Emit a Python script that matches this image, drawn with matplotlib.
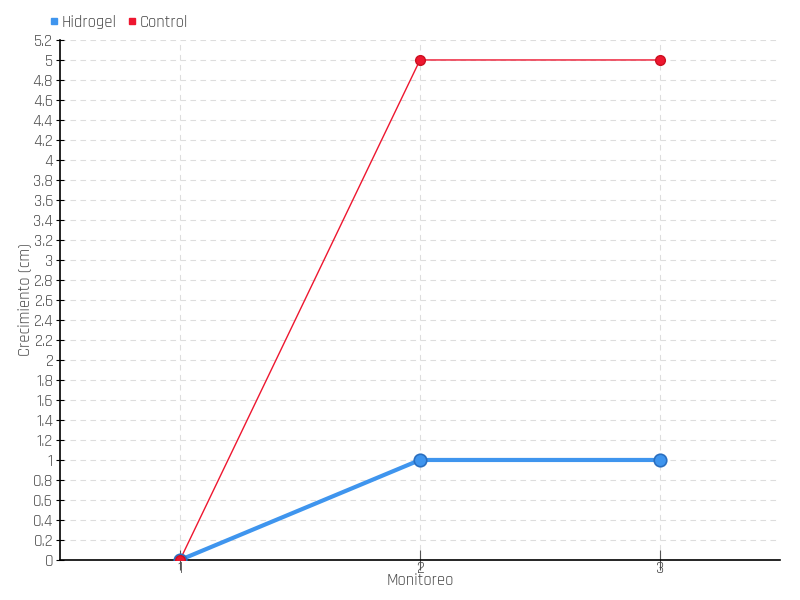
import matplotlib
matplotlib.use("Agg")
import matplotlib.pyplot as plt
import numpy as np
from matplotlib.lines import Line2D

plt.rcParams["font.family"] = ["Rajdhani", "DejaVu Sans"]

monitoreo = [1, 2, 3]
hidrogel = [0, 1, 1]
control = [0, 5, 5]
y_ticks = np.round(np.arange(0, 5.21, 0.2), 1)
y_labels = [f"{v:g}" for v in y_ticks]

BLUE = "#3f95ee"
RED = "#ee1730"
TXT = "#4d4d4d"

fig = plt.figure(figsize=(8, 6), dpi=100)
ax = fig.add_axes([0.075, 0.0667, 0.9, 0.8667])

ax.plot(monitoreo, control, color=RED, lw=1, marker="o", ms=7,
        mfc=RED, mec="#cc1020", zorder=3)
ax.plot(monitoreo, hidrogel, color=BLUE, lw=3, marker="o", ms=9,
        mfc=BLUE, mec="#2a6fc0", mew=1.2, zorder=4)
# control point at origin sits on top
ax.plot(monitoreo[:1], control[:1], "o", ms=7, mfc=RED, mec="#cc1020", zorder=5)

ax.set_xlim(0.5, 3.5)
ax.set_ylim(0, 5.2)
ax.set_xticks(monitoreo)
ax.set_xticklabels([str(m) for m in monitoreo])
ax.set_yticks(y_ticks)
ax.set_yticklabels(y_labels)

for s in ["top", "right"]:
    ax.spines[s].set_visible(False)
for s in ["left", "bottom"]:
    ax.spines[s].set_linewidth(1.2)
    ax.spines[s].set_color("black")

ax.grid(True, color="#dddddd", ls=(0, (5, 4)), lw=0.8)
ax.tick_params(axis="y", direction="inout", length=6, labelsize=12, labelcolor=TXT, pad=2)
ax.tick_params(axis="x", direction="inout", length=14, labelsize=12, labelcolor=TXT,
               pad=-6, color="#555555")

ax.set_xlabel("Monitoreo", fontsize=12, color=TXT, labelpad=-2)
ax.set_ylabel("Crecimiento (cm)", fontsize=12, color=TXT, labelpad=1)

handles = [
    Line2D([], [], ls="none", marker="s", ms=5, color=BLUE),
    Line2D([], [], ls="none", marker="s", ms=5, color=RED),
]
leg = fig.legend(handles, ["Hidrogel", "Control"], loc="upper left",
                 bbox_to_anchor=(0.044, 0.995), ncol=2, frameon=False,
                 fontsize=12, handletextpad=0.1, columnspacing=0.5,
                 handlelength=0.8, borderaxespad=0.3)
for t in leg.get_texts():
    t.set_color(TXT)

fig.savefig("out.png", dpi=100)
